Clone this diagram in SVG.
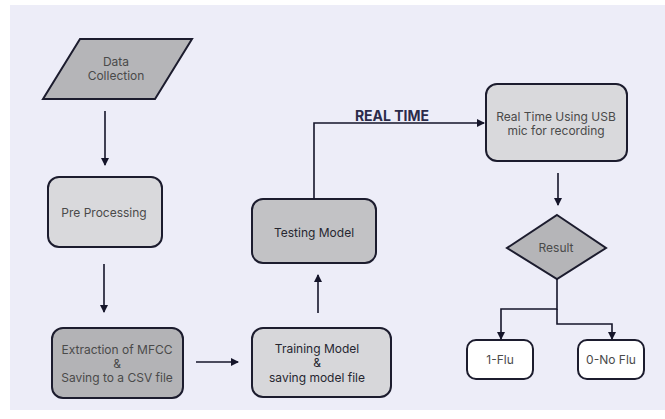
<svg xmlns="http://www.w3.org/2000/svg" width="665" height="419" viewBox="0 0 665 419">
<defs>
<marker id="ah" markerWidth="8" markerHeight="8" refX="7" refY="4" orient="auto" markerUnits="userSpaceOnUse">
<path d="M0,0 L8,4 L0,8 Z" fill="#15152a"/>
</marker>
<style>
.box{stroke:#1c1c2e;stroke-width:2}
.lbl{font-family:Inter,"Liberation Sans",sans-serif;font-size:12px;fill:#4a4a4a;text-anchor:middle}
.dk{fill:#262630}
.conn{fill:none;stroke:#15152a;stroke-width:1.6}
</style>
</defs>
<rect width="665" height="419" fill="#ffffff"/>
<rect x="10" y="5" width="655" height="405" fill="#ededf8"/>
<g id="data-collection">
<polygon class="box" points="80,39 192,39 155,99 43,99" fill="#b5b5b8"/>
<text class="lbl" x="116" y="66">Data</text>
<text class="lbl" x="116" y="80">Collection</text>
</g>
<g id="pre-processing">
<rect class="box" x="48" y="177" width="114" height="70" rx="11" fill="#d9d9dc"/>
<text class="lbl" x="104" y="217">Pre Processing</text>
</g>
<g id="extraction">
<rect class="box" x="52" y="328" width="131" height="70" rx="11" fill="#b3b3b6"/>
<text class="lbl" x="117" y="354">Extraction of MFCC</text>
<text class="lbl" x="117" y="368">&amp;</text>
<text class="lbl" x="117" y="382">Saving to a CSV file</text>
</g>
<g id="training">
<rect class="box" x="252" y="328" width="139" height="69" rx="11" fill="#d7d7da"/>
<text class="lbl dk" x="317" y="353">Training Model</text>
<text class="lbl dk" x="317" y="367">&amp;</text>
<text class="lbl dk" x="317" y="382">saving model file</text>
</g>
<g id="testing">
<rect class="box" x="252" y="199" width="124" height="64" rx="11" fill="#c2c2c5"/>
<text class="lbl dk" x="314" y="237">Testing Model</text>
</g>
<g id="realtime-usb">
<rect class="box" x="486" y="84" width="141" height="77" rx="11" fill="#d9d9dc"/>
<text class="lbl" x="556" y="121">Real Time Using USB</text>
<text class="lbl" x="556" y="135">mic for recording</text>
</g>
<g id="result">
<polygon class="box" points="557,215 606,248 557,279 507,248" fill="#b5b5b8"/>
<text class="lbl" x="556" y="252">Result</text>
</g>
<g id="flu">
<rect class="box" x="467" y="340" width="66" height="39" rx="9" fill="#ffffff"/>
<text class="lbl" x="500" y="364">1-Flu</text>
</g>
<g id="no-flu">
<rect class="box" x="578" y="340" width="66" height="39" rx="9" fill="#ffffff"/>
<text class="lbl" x="611" y="364">0-No Flu</text>
</g>
<g id="connectors">
<line class="conn" x1="105" y1="111" x2="105" y2="165" marker-end="url(#ah)"/>
<line class="conn" x1="104" y1="264" x2="104" y2="312" marker-end="url(#ah)"/>
<line class="conn" x1="196" y1="362" x2="238" y2="362" marker-end="url(#ah)"/>
<line class="conn" x1="318" y1="313" x2="318" y2="275" marker-end="url(#ah)"/>
<polyline class="conn" points="314,199 314,123 484,123" marker-end="url(#ah)"/>
<line class="conn" x1="558" y1="173" x2="558" y2="205" marker-end="url(#ah)"/>
<polyline class="conn" points="557,279 557,309 501,309 501,339" marker-end="url(#ah)"/>
<polyline class="conn" points="557,309 557,324 612,324 612,339" marker-end="url(#ah)"/>
<text x="392" y="121" font-family="Inter,'Liberation Sans',sans-serif" font-size="14" font-weight="bold" fill="#2b2b4a" text-anchor="middle">REAL TIME</text>
</g>
</svg>
